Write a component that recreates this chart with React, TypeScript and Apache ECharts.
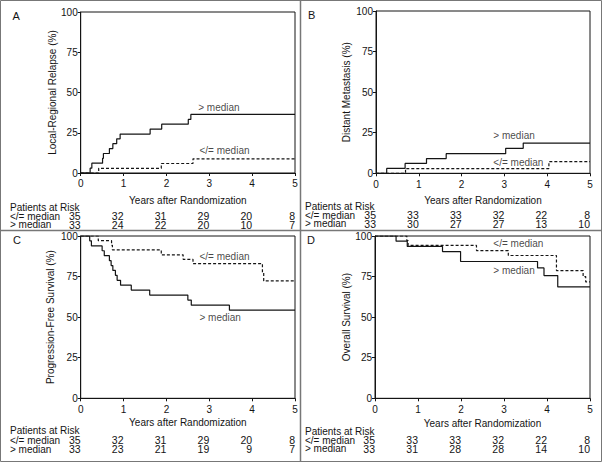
import React, { useEffect, useRef } from "react";
import * as echarts from "echarts";

// ---------- data ----------
const yearTicks = [0, 1, 2, 3, 4, 5];
const yTicks = [0, 25, 50, 75, 100];
const groupLow = "</= median";
const groupHigh = "> median";
const xTitle = "Years after Randomization";

// Panel A: Local-Regional Relapse (cumulative incidence, %)
const aHighT = [0, 0.22, 0.26, 0.51, 0.53, 0.67, 0.75, 0.84, 0.92, 1.62, 1.89, 2.51, 2.57, 5];
const aHighV = [0, 3.0, 6.1, 9.1, 12.1, 15.2, 18.2, 21.2, 24.2, 27.3, 30.3, 33.3, 36.4, 36.4];
const aLowT = [0, 0.42, 1.88, 2.62, 5];
const aLowV = [0, 2.9, 5.9, 8.8, 8.8];
const aRiskLow = [35, 32, 31, 29, 20, 8];
const aRiskHigh = [33, 24, 22, 20, 10, 7];

// Panel B: Distant Metastasis (%)
const bHighT = [0, 0.25, 0.68, 1.18, 1.64, 3.03, 3.44, 5];
const bHighV = [0, 3.0, 6.1, 9.1, 12.1, 15.4, 18.6, 18.6];
const bLowT = [0, 0.69, 4.04, 5];
const bLowV = [0, 2.9, 7.2, 7.2];
const bRiskLow = [35, 33, 33, 32, 22, 8];
const bRiskHigh = [33, 30, 27, 27, 13, 10];

// Panel C: Progression-Free Survival (%)
const cHighT = [0, 0.21, 0.25, 0.5, 0.55, 0.67, 0.71, 0.75, 0.81, 0.85, 0.93, 1.18, 1.61, 2.5, 2.58, 3.47, 5];
const cHighV = [100, 97.0, 93.9, 90.9, 87.9, 84.8, 81.8, 78.8, 75.8, 72.7, 69.7, 66.7, 63.6, 60.5, 57.4, 54.3, 54.3];
const cLowT = [0, 0.41, 0.72, 0.74, 1.88, 2.39, 2.62, 4.24, 4.27, 5];
const cLowV = [100, 97.1, 94.3, 91.4, 88.4, 85.6, 83.0, 77.6, 72.3, 72.3];
const cRiskLow = [35, 32, 31, 29, 20, 8];
const cRiskHigh = [33, 23, 21, 19, 9, 7];

// Panel D: Overall Survival (%)
const dHighT = [0, 0.49, 0.75, 1.57, 1.99, 3.78, 3.93, 4.25, 5];
const dHighV = [100, 96.8, 93.6, 90.4, 84.3, 80.3, 75.6, 68.6, 68.6];
const dLowT = [0, 0.74, 0.77, 2.36, 3.1, 4.22, 4.84, 4.9, 5];
const dLowV = [100, 97.1, 94.2, 91.0, 88.0, 78.7, 75.0, 71.7, 71.7];
const dRiskLow = [35, 33, 33, 32, 22, 8];
const dRiskHigh = [33, 31, 28, 28, 14, 10];

const FONT = "'Liberation Sans', Arial, Helvetica, sans-serif";
const NARROW = "'Liberation Sans Narrow', 'Arial Narrow', 'Liberation Sans', Arial, sans-serif";
const INK = "#141414";

const zip = (t: number[], v: number[]) => t.map((x, i) => [x, v[i]]);

// ---------- layout (positions/styles only) ----------
const panels = [
  {
    letter: "A", title: "Local-Regional Relapse (%)",
    high: zip(aHighT, aHighV), low: zip(aLowT, aLowV), riskLow: aRiskLow, riskHigh: aRiskHigh,
    grid: { left: 80.7, top: 12, width: 214.3, height: 161 },
    letterPos: [12.5, 16], yNameGap: 27.7, xLabelGap: 10, xNameGap: 27,
    par: 207, row1: 216, row2: 224.5, rowX: 10,
    highLbl: [2.73, 40.4], lowLbl: [2.76, 13.9],
  },
  {
    letter: "B", title: "Distant Metastasis (%)",
    high: zip(bHighT, bHighV), low: zip(bLowT, bLowV), riskLow: bRiskLow, riskHigh: bRiskHigh,
    grid: { left: 376, top: 11, width: 214, height: 162.3 },
    letterPos: [308, 15], yNameGap: 29.3, xLabelGap: 11.5, xNameGap: 26.7,
    par: 206, row1: 215, row2: 223.5, rowX: 305,
    highLbl: [2.73, 23], lowLbl: [2.73, 6.4],
  },
  {
    letter: "C", title: "Progression-Free Survival (%)",
    high: zip(cHighT, cHighV), low: zip(cLowT, cLowV), riskLow: cRiskLow, riskHigh: cRiskHigh,
    grid: { left: 80.7, top: 236, width: 214.3, height: 162.3 },
    letterPos: [13, 239.5], yNameGap: 30, xLabelGap: 11.5, xNameGap: 24.5,
    par: 430, row1: 440, row2: 449, rowX: 10,
    highLbl: [2.76, 49.9], lowLbl: [2.76, 87.2],
  },
  {
    letter: "D", title: "Overall Survival (%)",
    high: zip(dHighT, dHighV), low: zip(dLowT, dLowV), riskLow: dRiskLow, riskHigh: dRiskHigh,
    grid: { left: 375, top: 236, width: 215, height: 162.3 },
    letterPos: [307, 240], yNameGap: 28.3, xLabelGap: 11.5, xNameGap: 25,
    par: 431, row1: 440, row2: 448.5, rowX: 305,
    highLbl: [2.74, 79], lowLbl: [2.74, 95.5],
  },
];

function buildOption() {
  const grid: any[] = [];
  const xAxis: any[] = [];
  const yAxis: any[] = [];
  const series: any[] = [];
  const graphic: any[] = [];

  panels.forEach((p, i) => {
    grid.push({ ...p.grid, show: true, borderColor: INK, borderWidth: 1, backgroundColor: "transparent" });
    const axisBottom = p.grid.top + p.grid.height;

    xAxis.push({
      gridIndex: i, type: "value", min: yearTicks[0], max: yearTicks[yearTicks.length - 1], interval: 1,
      position: "bottom",
      axisLine: { show: true, onZero: false, lineStyle: { color: INK, width: 1 } },
      axisTick: { show: true, length: 3, lineStyle: { color: INK } },
      axisLabel: { fontSize: 10, color: INK, fontFamily: FONT, margin: p.xLabelGap, verticalAlign: "middle", lineHeight: 9 },
      splitLine: { show: false },
      name: xTitle, nameLocation: "middle", nameGap: p.xNameGap,
      nameTextStyle: { fontSize: 10, color: INK, fontFamily: FONT, verticalAlign: "middle", lineHeight: 9 },
    });
    [p.riskLow, p.riskHigh].forEach((risk, k) => {
      const rowY = k === 0 ? p.row1 : p.row2;
      xAxis.push({
        gridIndex: i, type: "value", min: 0, max: 5, interval: 1, position: "bottom",
        offset: rowY - axisBottom,
        axisLine: { show: false }, axisTick: { show: false }, splitLine: { show: false },
        axisLabel: {
          margin: 0, verticalAlign: "middle", align: "right", fontSize: 10.5, lineHeight: 8,
          color: INK, fontFamily: NARROW,
          showMinLabel: true, showMaxLabel: true, hideOverlap: false,
          formatter: (v: number) => String(risk[yearTicks.indexOf(Math.round(v))]),
        },
      });
    });

    yAxis.push({
      gridIndex: i, type: "value", min: yTicks[0], max: yTicks[yTicks.length - 1], interval: 25,
      axisLine: { show: true, lineStyle: { color: INK, width: 1 } },
      axisTick: { show: true, length: 3, lineStyle: { color: INK } },
      axisLabel: { fontSize: 10, color: INK, fontFamily: FONT, margin: 3 },
      splitLine: { show: false },
      name: p.title, nameLocation: "middle", nameGap: p.yNameGap, nameRotate: 90,
      nameTextStyle: { fontSize: 10, color: INK, fontFamily: FONT, verticalAlign: "middle" },
    });

    const xi = i * 3;
    series.push({
      type: "line", xAxisIndex: xi, yAxisIndex: i, step: "end", symbol: "none", data: p.high,
      lineStyle: { color: INK, width: 1.2 }, silent: true,
    });
    series.push({
      type: "line", xAxisIndex: xi, yAxisIndex: i, step: "end", symbol: "none", data: p.low,
      lineStyle: { color: INK, width: 1.2, type: [3, 2] }, silent: true,
    });
    [[p.highLbl, groupHigh], [p.lowLbl, groupLow]].forEach(([pos, txt]) => {
      series.push({
        type: "scatter", xAxisIndex: xi, yAxisIndex: i, data: [pos], symbolSize: 1,
        itemStyle: { color: "transparent" }, silent: true,
        label: { show: true, position: "right", distance: 0, formatter: txt as string, fontSize: 10, color: INK, fontFamily: FONT },
      });
    });

    const txt = (x: number, y: number, text: string, size = 10) => ({
      type: "text", x, y,
      style: { text, fontSize: size, lineHeight: 8, fill: INK, fontFamily: FONT, verticalAlign: "middle" },
    });
    graphic.push(txt(p.letterPos[0], p.letterPos[1], p.letter, 11));
    graphic.push(txt(p.rowX, p.par, "Patients at Risk"));
    graphic.push(txt(p.rowX, p.row1, groupLow));
    graphic.push(txt(p.rowX, p.row2, groupHigh));
  });

  graphic.push({ type: "rect", shape: { x: 0.5, y: 0.5, width: 601, height: 461 }, style: { fill: "none", stroke: "#777", lineWidth: 1 } });
  graphic.push({ type: "line", shape: { x1: 300.5, y1: 0, x2: 300.5, y2: 462 }, style: { stroke: "#777", lineWidth: 1.5 } });
  graphic.push({ type: "line", shape: { x1: 0, y1: 230.5, x2: 602, y2: 230.5 }, style: { stroke: "#777", lineWidth: 1.5 } });

  return {
    animation: false,
    backgroundColor: "#ffffff",
    textStyle: { fontFamily: FONT },
    grid, xAxis, yAxis, series, graphic,
  };
}

export default function App() {
  const ref = useRef<HTMLDivElement>(null);
  useEffect(() => {
    const chart = echarts.init(ref.current!, null, { renderer: "svg" });
    chart.setOption(buildOption() as any);
    return () => chart.dispose();
  }, []);
  return (
    <div
      ref={ref}
      style={{ position: "absolute", left: 0, top: 0, width: 602, height: 462, background: "#fff" }}
    />
  );
}
